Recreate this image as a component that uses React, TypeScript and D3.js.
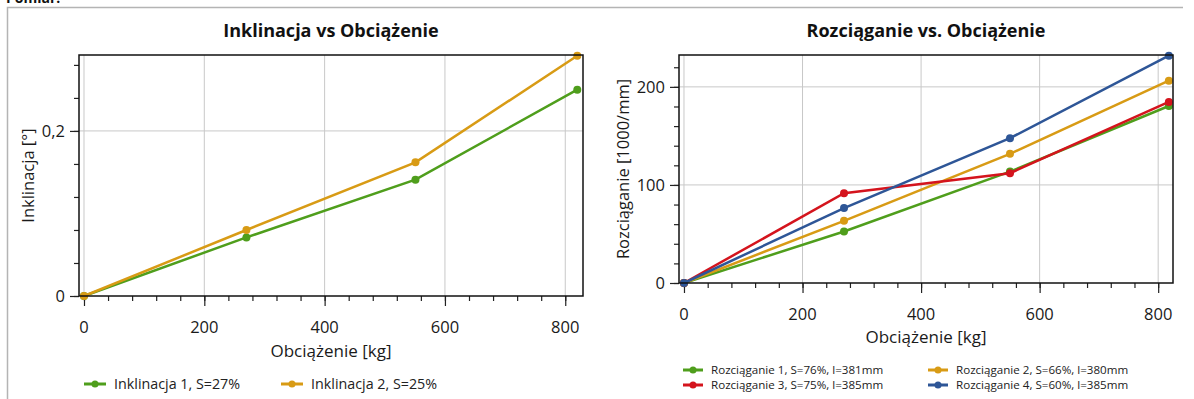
import React, { useEffect, useRef } from 'react';
import * as d3 from 'd3';

// load points [kg]
const inklLoad = [0, 270, 551, 820];
const inkl1 = [0, 0.071, 0.141, 0.25];
const inkl2 = [0, 0.08, 0.162, 0.291];
const inklLabels = ['Inklinacja 1, S=27%', 'Inklinacja 2, S=25%'];

const rozLoad = [0, 270, 550, 818];
const roz1 = [0, 52.5, 113.6, 180.5];
const roz2 = [0, 63.4, 131.7, 206.3];
const roz3 = [0, 91.6, 112, 184.6];
const roz4 = [0, 76.4, 147.7, 231.8];
const rozLabels = [
	'Rozciąganie 1, S=76%, l=381mm',
	'Rozciąganie 2, S=66%, l=380mm',
	'Rozciąganie 3, S=75%, l=385mm',
	'Rozciąganie 4, S=60%, l=385mm',
];

const xMajor = [0, 200, 400, 600, 800];
const xMinor = d3.range(0, 840, 40);
const inklYMajor = [0, 0.2];
const inklYMinor = d3.range(0, 0.3, 0.04);
const rozYMajor = [0, 100, 200];
const rozYMinor = d3.range(0, 240, 20);

const GREEN = '#4f9e1c';
const ORANGE = '#d89b15';
const RED = '#d4141d';
const BLUE = '#2e5697';
const FONT = '"Open Sans", "Noto Sans", sans-serif';

const comma = (d) => String(d).replace('.', ',');

const drawChart = (svg, cfg) => {
	const { box, xDomain, yDomain, yMajor, yMinor, series, title, xTitle, yTitle, yTitleX,
		tickBase, xTitleBase, legend } = cfg;
	const x = d3.scaleLinear().domain(xDomain).range([box.x0, box.x1]);
	const y = d3.scaleLinear().domain(yDomain).range([box.y1, box.y0]);
	const g = svg.append('g').attr('font-family', FONT);

	g.append('text')
		.attr('x', (box.x0 + box.x1) / 2).attr('y', 37)
		.attr('text-anchor', 'middle').attr('font-size', 18).attr('font-weight', 'bold')
		.attr('fill', '#111').text(title);

	// grid
	g.selectAll('.gx').data(xMajor).enter().append('line')
		.attr('x1', (d) => x(d)).attr('x2', (d) => x(d))
		.attr('y1', box.y0).attr('y2', box.y1)
		.attr('stroke', '#c8c8c8').attr('stroke-width', 1);
	g.selectAll('.gy').data(yMajor.slice(1)).enter().append('line')
		.attr('x1', box.x0).attr('x2', box.x1)
		.attr('y1', (d) => y(d)).attr('y2', (d) => y(d))
		.attr('stroke', '#c8c8c8').attr('stroke-width', 1);

	// minor + major ticks
	g.append('g').attr('transform', `translate(0,${ box.y1 })`)
		.call(d3.axisBottom(x).tickValues(xMinor).tickSize(5).tickFormat(''))
		.call((a) => a.select('.domain').remove());
	g.append('g').attr('transform', `translate(0,${ box.y1 })`)
		.call(d3.axisBottom(x).tickValues(xMajor).tickSize(10).tickFormat(''))
		.call((a) => a.select('.domain').remove());
	g.append('g').attr('transform', `translate(${ box.x0 },0)`)
		.call(d3.axisLeft(y).tickValues(yMinor).tickSize(5).tickFormat(''))
		.call((a) => a.select('.domain').remove());
	g.append('g').attr('transform', `translate(${ box.x0 },0)`)
		.call(d3.axisLeft(y).tickValues(yMajor).tickSize(9).tickFormat(''))
		.call((a) => a.select('.domain').remove());
	g.selectAll('.tick line').attr('stroke', '#222').attr('stroke-width', 1.2);

	// tick labels
	g.selectAll('.xl').data(xMajor).enter().append('text')
		.attr('x', (d) => x(d)).attr('y', tickBase)
		.attr('text-anchor', 'middle').attr('font-size', 16.5).attr('fill', '#1a1a1a')
		.text((d) => d);
	g.selectAll('.yl').data(yMajor).enter().append('text')
		.attr('x', box.x0 - 14).attr('y', (d) => y(d) + 6)
		.attr('text-anchor', 'end').attr('font-size', 16.5).attr('fill', '#1a1a1a')
		.text(comma);

	g.append('text')
		.attr('x', (box.x0 + box.x1) / 2).attr('y', xTitleBase)
		.attr('text-anchor', 'middle').attr('font-size', 17).attr('fill', '#1a1a1a')
		.text(xTitle);
	g.append('text')
		.attr('transform', `translate(${ yTitleX },${ (box.y0 + box.y1) / 2 }) rotate(-90)`)
		.attr('text-anchor', 'middle').attr('dy', '0.35em').attr('font-size', 16.5).attr('fill', '#1a1a1a')
		.text(yTitle);

	// series
	const plot = g.append('g');
	const line = d3.line().x((d) => x(d[0])).y((d) => y(d[1]));
	series.forEach((s) => {
		const pts = s.xs.map((v, i) => [v, s.ys[i]]);
		plot.append('path').datum(pts).attr('d', line)
			.attr('fill', 'none').attr('stroke', s.color).attr('stroke-width', 2.5);
		plot.selectAll(null).data(pts).enter().append('circle')
			.attr('cx', (d) => x(d[0])).attr('cy', (d) => y(d[1])).attr('r', 4)
			.attr('fill', s.color);
	});

	g.append('rect')
		.attr('x', box.x0).attr('y', box.y0)
		.attr('width', box.x1 - box.x0).attr('height', box.y1 - box.y0)
		.attr('fill', 'none').attr('stroke', '#111').attr('stroke-width', 1.5);

	// legend
	legend.items.forEach((it) => {
		const lg = g.append('g').attr('transform', `translate(${ it.x },${ it.y })`);
		lg.append('line').attr('x1', 0).attr('x2', legend.len).attr('y1', 0).attr('y2', 0)
			.attr('stroke', it.color).attr('stroke-width', 3);
		lg.append('circle').attr('cx', legend.len / 2).attr('cy', 0).attr('r', 3.5).attr('fill', it.color);
		lg.append('text').attr('x', legend.len + 8).attr('y', 0).attr('dy', '0.35em')
			.attr('font-size', legend.size).attr('fill', '#222').text(it.label);
	});
};

const App = () => {
	const ref = useRef(null);

	useEffect(() => {
		const svg = d3.select(ref.current);
		svg.selectAll('*').remove();

		svg.append('text').attr('x', 6).attr('y', 3).attr('font-family', FONT)
			.attr('font-size', 14).attr('font-weight', 'bold').attr('fill', '#111').text('Pomiar:');
		svg.append('path').attr('d', 'M7.5,399 V7.5 H1183')
			.attr('fill', 'none').attr('stroke', '#b4b4b4').attr('stroke-width', 1.5);

		drawChart(svg, {
			box: { x0: 79, x1: 583, y0: 55, y1: 296 },
			xDomain: [-8.3, 829.5],
			yDomain: [0, 0.292],
			yMajor: inklYMajor,
			yMinor: inklYMinor,
			series: [
				{ xs: inklLoad, ys: inkl1, color: GREEN },
				{ xs: inklLoad, ys: inkl2, color: ORANGE },
			],
			title: 'Inklinacja vs Obciążenie',
			xTitle: 'Obciążenie [kg]',
			yTitle: 'Inklinacja [°]',
			yTitleX: 28,
			tickBase: 333,
			xTitleBase: 357,
			legend: {
				len: 22, size: 14.3,
				items: [
					{ x: 84, y: 384, color: GREEN, label: inklLabels[0] },
					{ x: 281, y: 384, color: ORANGE, label: inklLabels[1] },
				],
			},
		});

		drawChart(svg, {
			box: { x0: 679, x1: 1173, y0: 55, y1: 283 },
			xDomain: [-8.4, 825],
			yDomain: [0, 232.5],
			yMajor: rozYMajor,
			yMinor: rozYMinor,
			series: [
				{ xs: rozLoad, ys: roz1, color: GREEN },
				{ xs: rozLoad, ys: roz2, color: ORANGE },
				{ xs: rozLoad, ys: roz3, color: RED },
				{ xs: rozLoad, ys: roz4, color: BLUE },
			],
			title: 'Rozciąganie vs. Obciążenie',
			xTitle: 'Obciążenie [kg]',
			yTitle: 'Rozciąganie [1000/mm]',
			yTitleX: 623,
			tickBase: 320,
			xTitleBase: 343,
			legend: {
				len: 20, size: 11.6,
				items: [
					{ x: 683, y: 370, color: GREEN, label: rozLabels[0] },
					{ x: 928, y: 370, color: ORANGE, label: rozLabels[1] },
					{ x: 683, y: 385, color: RED, label: rozLabels[2] },
					{ x: 928, y: 385, color: BLUE, label: rozLabels[3] },
				],
			},
		});
	}, []);

	return (
		<svg ref={ ref } width={ 1194 } height={ 399 }
			style={ { position: 'absolute', left: 0, top: 0, background: '#fff' } }/>
	);
};

export default App;
